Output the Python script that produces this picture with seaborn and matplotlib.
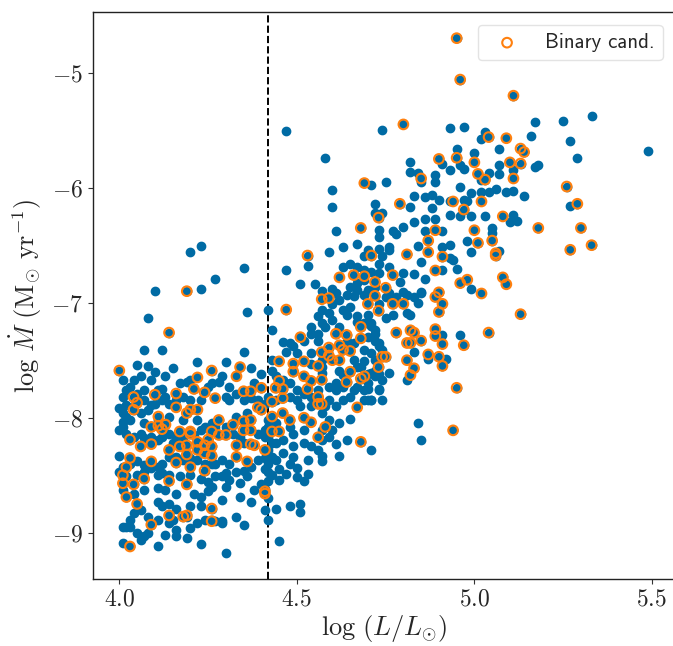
import numpy as np
import pandas as pd
import matplotlib
matplotlib.use("Agg")
import matplotlib.pyplot as plt
import seaborn as sns

# ---- data: log L/Lsun and log Mdot ----
binary_lum = [
    4.69, 4.68, 4.53, 4.19, 4.62, 4.66, 4.69, 4.72, 4.71, 4.57, 4.59, 4.72,
    4.95, 4.96, 5.11, 4.80, 5.04, 5.09, 5.13, 5.14, 4.95, 5.00, 4.90, 4.85,
    5.01, 5.03, 5.10, 5.13, 5.11, 5.26, 5.29, 5.18, 5.30, 5.27, 5.33, 5.08,
    5.05, 5.00, 5.01, 4.97, 4.94, 5.02, 4.89, 4.87, 4.87, 4.91, 4.89, 4.81,
    4.79, 4.77, 4.75, 4.89, 4.90, 4.96, 4.98, 5.02, 5.08, 5.09, 5.06, 5.06,
    4.73,
    5.13, 5.04, 4.97, 4.90, 4.91, 4.80, 4.77, 4.73, 4.78, 4.82, 4.83, 4.89,
    4.89, 4.91, 4.85, 4.81, 4.82, 4.87, 4.90, 4.91, 4.81, 4.83, 4.82, 4.74,
    4.75, 4.73, 4.95, 4.94,
    4.14, 4.47, 4.70, 4.68, 4.61, 4.64, 4.68, 4.51, 4.57, 4.59, 4.62, 4.63,
    4.65, 4.59, 4.60, 4.62, 4.56, 4.52, 4.49, 4.45, 4.49, 4.52, 4.54, 4.57,
    4.53, 4.65, 4.64, 4.68, 4.69, 4.56, 4.57, 4.56, 4.67, 4.68, 4.56, 4.58,
    4.52, 4.54, 4.48, 4.46, 4.43, 4.43, 4.45, 4.43, 4.46, 4.46, 4.45, 4.44,
    4.40, 4.39, 4.40, 4.37, 4.35, 4.34, 4.33, 4.26, 4.22, 4.21, 4.24, 4.27,
    4.16, 4.16, 4.19, 4.20, 4.22, 4.10, 4.04, 4.05, 4.04, 4.00, 4.03, 4.03,
    4.02, 4.01, 4.01, 4.04, 4.02, 4.05, 4.09, 4.03, 4.26, 4.41, 4.41, 4.26,
    4.36, 4.38, 4.41, 4.37, 4.33, 4.33, 4.35, 4.37, 4.37, 4.35, 4.32, 4.30,
    4.28, 4.26, 4.28, 4.25, 4.24, 4.26, 4.22, 4.20, 4.17, 4.19, 4.17, 4.22,
    4.24, 4.26, 4.19, 4.14, 4.16, 4.20, 4.24, 4.14, 4.19, 4.14, 4.18, 4.19,
    4.07, 4.09, 4.09, 4.06, 4.09, 4.11, 4.13, 4.12, 4.11, 4.20,
]
binary_mdot = [
    -5.96, -6.35, -6.59, -6.90, -6.78, -6.76, -6.77, -6.82, -6.59, -6.97, -6.96, -6.94,
    -4.70, -5.06, -5.20, -5.45, -5.56, -5.57, -5.66, -5.69, -5.74, -5.78, -5.75, -5.92,
    -5.88, -5.93, -5.78, -5.79, -5.92, -5.99, -6.14, -6.35, -6.35, -6.54, -6.50, -6.25,
    -6.46, -6.37, -6.48, -6.19, -6.12, -6.12, -6.37, -6.46, -6.56, -6.60, -6.72, -6.58,
    -6.14, -6.76, -6.87, -6.95, -6.91, -6.83, -6.80, -6.92, -6.78, -6.84, -6.59, -6.57,
    -6.26,
    -7.10, -7.26, -7.37, -7.08, -7.01, -7.01, -7.01, -7.07, -7.26, -7.24, -7.26, -7.23,
    -7.29, -7.36, -7.33, -7.35, -7.35, -7.45, -7.47, -7.55, -7.50, -7.57, -7.63, -7.47,
    -7.47, -7.56, -7.74, -8.11,
    -7.26, -7.06, -7.01, -7.21, -7.27, -7.28, -7.31, -7.30, -7.43, -7.39, -7.37, -7.41,
    -7.42, -7.46, -7.50, -7.50, -7.55, -7.51, -7.53, -7.51, -7.60, -7.64, -7.68, -7.67,
    -7.75, -7.60, -7.69, -7.66, -7.64, -7.82, -7.88, -7.88, -7.91, -8.21, -8.17, -8.08,
    -8.00, -8.04, -8.02, -7.96, -7.99, -8.12, -8.12, -7.86, -7.83, -7.75, -7.68, -7.74,
    -7.74, -7.91, -7.93, -7.77, -7.77, -7.56, -7.64, -7.59, -7.65, -7.75, -7.78, -7.83,
    -7.79, -7.91, -7.96, -7.93, -7.93, -7.80, -7.82, -7.87, -7.93, -7.59, -8.19, -8.35,
    -8.43, -8.50, -8.57, -8.58, -8.69, -8.75, -8.93, -9.12, -8.90, -8.64, -8.66, -8.79,
    -8.38, -8.24, -8.28, -8.23, -8.34, -8.24, -8.11, -8.11, -8.02, -8.03, -8.06, -8.15,
    -8.15, -8.12, -8.02, -8.19, -8.24, -8.25, -8.21, -8.12, -8.12, -8.24, -8.25, -8.28,
    -8.31, -8.33, -8.32, -8.28, -8.39, -8.43, -8.46, -8.55, -8.58, -8.85, -8.86, -8.85,
    -8.53, -8.38, -8.23, -8.25, -8.08, -8.07, -8.06, -8.10, -7.99, -8.14,
]

single_lum = [
    4.47, 4.58, 4.71, 4.74, 4.60, 4.60, 4.72, 4.72, 4.61, 4.73, 4.73, 4.67,
    4.63, 4.59, 4.70, 4.69, 4.73, 4.53, 4.47, 4.35, 4.27, 4.23, 4.20, 4.23,
    4.10, 4.51, 4.55, 4.69, 4.71, 4.67, 4.65, 4.60, 4.64, 4.66, 4.69, 4.73,
    4.63, 4.65, 4.67, 4.69, 4.72, 4.73, 4.70, 4.67, 4.61,
    5.49, 4.93, 4.97, 5.17, 5.25, 5.33, 5.27, 5.29, 5.03, 5.02, 5.16, 5.07,
    4.95, 5.00, 4.91, 4.82, 4.82, 4.84, 4.85, 4.89, 4.89, 4.93, 4.96, 4.97,
    5.02, 5.04, 5.07, 5.07, 5.17, 5.18, 5.11, 4.75, 4.96, 4.99, 5.04, 5.02,
    5.06, 5.09, 5.11, 5.14, 5.27, 5.10, 5.12, 5.11, 5.05, 5.05, 4.98, 4.99,
    4.99, 4.96, 4.93, 5.03, 4.98, 4.97, 4.93, 4.91, 4.84, 4.93, 4.82, 4.83,
    4.86, 4.88, 4.90, 4.88, 4.86, 4.89, 4.83, 4.80, 4.77, 4.74, 4.74, 4.76,
    4.80, 4.83, 4.85, 4.86, 4.79, 4.80, 4.85, 4.95, 4.99, 5.07, 4.93, 4.91,
    4.86, 4.76, 4.78, 4.76, 4.83, 4.76, 4.94, 4.91,
    4.96, 4.84, 4.85, 4.81, 4.82, 4.77, 4.75, 4.91, 4.83, 4.87, 4.92, 4.81,
    4.76, 4.74, 4.72, 4.73, 4.71, 4.70, 4.71, 4.72, 4.70, 4.84, 4.85, 4.71,
    4.70, 4.73, 4.74, 4.72, 4.71, 4.70, 4.75, 4.76, 4.78, 4.81, 4.73,
    4.08, 4.36, 4.42, 4.43, 4.57, 4.60, 4.63, 4.64, 4.70, 4.57, 4.58, 4.67,
    4.71, 4.72, 4.56, 4.56, 4.54, 4.46, 4.47, 4.49, 4.54, 4.69, 4.67, 4.66,
    4.74, 4.70, 4.74, 4.69, 4.62, 4.63, 4.61, 4.57, 4.56, 4.59, 4.58, 4.59,
    4.61, 4.63, 4.65, 4.66, 4.65, 4.64, 4.61, 4.62, 4.57, 4.57, 4.07, 4.12,
    4.08, 4.10, 4.05, 4.06, 4.04, 4.07, 4.15, 4.12, 4.13, 4.10, 4.09, 4.01,
    4.02, 4.00, 4.01, 4.02, 4.01, 4.01, 4.00, 4.01, 4.01, 4.03, 4.06, 4.07,
    4.11, 4.13, 4.16, 4.19, 4.23, 4.30, 4.45, 4.42, 4.44, 4.48, 4.51, 4.51,
    4.53, 4.50, 4.45, 4.42, 4.42, 4.38, 4.37, 4.35, 4.29, 4.27, 4.33, 4.34,
    4.29, 4.30, 4.34, 4.33, 4.36, 4.30, 4.35, 4.37, 4.22, 4.19,
    4.05, 4.07, 4.04, 4.02, 4.06, 4.08, 4.11, 4.12, 4.14, 4.16, 4.18, 4.20,
    4.23, 4.25, 4.26, 4.28, 4.30, 4.31, 4.33, 4.35, 4.37, 4.39, 4.41, 4.42,
    4.44,
    4.00, 4.02, 4.04, 4.06, 4.07, 4.09, 4.11, 4.12, 4.14, 4.16, 4.15, 4.18,
    4.21, 4.23, 4.24, 4.26, 4.27, 4.30, 4.32, 4.34, 4.35, 4.39, 4.41, 4.42,
    4.44, 4.42, 4.43, 4.41, 4.39, 4.37, 4.35, 4.31, 4.29, 4.27, 4.26, 4.24,
    4.22, 4.20, 4.18, 4.16, 4.14, 4.12, 4.11, 4.09, 4.07, 4.05, 4.03, 4.01,
    4.00, 4.02, 4.05, 4.07, 4.11, 4.12, 4.14, 4.17, 4.20, 4.23, 4.25, 4.27,
    4.30, 4.31, 4.29,
    4.01, 4.04, 4.07, 4.11, 4.13, 4.16, 4.21, 4.23, 4.25, 4.26, 4.11, 4.12,
    4.14, 4.16, 4.20, 4.23, 4.04, 4.06, 4.08, 4.11, 4.14, 4.16, 4.20, 4.22,
    4.24, 4.26, 4.29, 4.03, 4.02,
    4.43, 4.43, 4.44, 4.46, 4.48, 4.50, 4.52, 4.54, 4.48, 4.50, 4.51, 4.54,
    4.57, 4.59, 4.62, 4.60, 4.57, 4.52, 4.49, 4.48, 4.44, 4.42, 4.42, 4.41,
    4.43, 4.46, 4.49, 4.52, 4.54, 4.57, 4.59, 4.56, 4.53, 4.49, 4.46, 4.44,
    4.48,
    4.59, 4.62, 4.65, 4.67, 4.69, 4.72, 4.73, 4.71, 4.69, 4.66, 4.64, 4.62,
    4.60, 4.59, 4.57, 4.56, 4.54, 4.52, 4.50, 4.48, 4.54, 4.57, 4.57, 4.61,
    4.63, 4.67, 4.69, 4.71, 4.73, 4.73, 4.72, 4.70, 4.68,
    4.41, 4.42, 4.41, 4.42, 4.41, 4.43, 4.40, 4.42, 4.45, 4.47, 4.50, 4.52,
    4.08, 4.05, 4.15, 4.19, 4.01, 4.03, 4.09, 4.13, 4.17, 4.20, 4.29, 4.31,
    4.40, 4.38, 4.03, 4.07, 4.11, 4.14, 4.18, 4.22, 4.33, 4.36,
]
single_mdot = [
    -5.51, -5.74, -5.98, -5.50, -6.02, -6.17, -6.14, -6.22, -6.38, -6.43, -6.37, -6.49,
    -6.52, -6.56, -6.54, -6.59, -6.53, -6.68, -6.72, -6.70, -6.79, -6.51, -6.56, -6.88,
    -6.90, -6.84, -6.84, -6.72, -6.73, -6.83, -6.86, -6.88, -6.93, -6.94, -6.93, -6.66,
    -6.69, -6.66, -6.69, -6.80, -6.86, -6.74, -6.89, -6.89, -6.92,
    -5.68, -5.48, -5.47, -5.43, -5.42, -5.38, -5.59, -5.74, -5.52, -5.58, -5.55, -5.66,
    -5.66, -5.70, -5.79, -5.78, -5.86, -5.87, -5.95, -5.89, -5.95, -5.85, -5.80, -5.84,
    -5.93, -5.87, -5.80, -5.88, -5.82, -5.80, -5.85, -5.95, -5.99, -6.05, -6.04, -6.04,
    -6.01, -6.04, -6.03, -6.07, -6.16, -6.30, -6.29, -6.24, -6.35, -6.39, -6.46, -6.56,
    -6.25, -6.25, -6.24, -6.25, -6.12, -6.11, -6.12, -6.38, -6.51, -6.61, -6.17, -6.07,
    -6.08, -6.06, -6.11, -6.18, -6.27, -6.27, -6.30, -6.34, -6.38, -6.22, -6.59, -6.69,
    -6.74, -6.75, -6.65, -6.79, -6.82, -6.91, -6.91, -6.71, -6.88, -6.55, -6.50, -6.52,
    -6.38, -6.52, -6.40, -6.54, -6.95, -6.95, -6.63, -6.72,
    -7.28, -7.00, -6.92, -7.09, -7.11, -7.11, -7.13, -7.28, -7.43, -7.49, -7.49, -7.67,
    -7.61, -7.46, -7.64, -7.75, -7.85, -7.85, -7.20, -7.24, -7.30, -8.05, -8.19, -8.28,
    -7.18, -7.35, -7.41, -7.50, -7.61, -7.70, -6.95, -6.92, -6.95, -6.93, -7.01,
    -7.13, -7.08, -7.06, -7.24, -6.90, -7.01, -7.06, -7.11, -7.11, -7.18, -7.21, -7.17,
    -7.18, -7.27, -7.27, -7.33, -7.27, -7.34, -7.43, -7.38, -7.44, -7.51, -7.56, -7.50,
    -7.67, -7.75, -7.85, -7.85, -7.59, -7.63, -7.70, -7.61, -7.76, -7.73, -7.90, -7.85,
    -7.90, -7.85, -7.82, -7.76, -8.01, -8.19, -8.23, -8.33, -8.33, -8.38, -7.41, -7.41,
    -7.55, -7.60, -7.54, -7.64, -7.67, -7.76, -7.57, -7.75, -7.82, -7.88, -7.89, -7.82,
    -7.76, -7.92, -7.96, -7.89, -8.04, -8.08, -8.33, -9.09, -8.95, -8.95, -9.06, -9.03,
    -9.12, -9.02, -9.03, -9.05, -9.10, -9.18, -9.07, -8.89, -8.79, -8.77, -8.75, -8.82,
    -8.49, -8.44, -8.54, -8.47, -8.40, -8.63, -8.73, -8.93, -8.92, -8.90, -8.86, -8.69,
    -8.72, -8.60, -8.57, -8.47, -8.51, -7.52, -7.43, -7.57, -7.52, -7.69,
    -7.79, -7.85, -7.90, -7.99, -7.96, -7.93, -7.76, -7.85, -7.88, -7.85, -7.82, -7.85,
    -7.85, -7.73, -7.70, -7.69, -7.82, -7.85, -7.79, -7.85, -7.83, -7.85, -7.88, -7.82,
    -7.85,
    -8.11, -8.14, -8.17, -8.14, -8.18, -8.17, -8.19, -8.17, -8.14, -8.17, -8.22, -8.18,
    -8.15, -8.11, -8.08, -8.05, -8.08, -8.08, -8.14, -8.17, -8.22, -8.14, -8.11, -8.17,
    -8.22, -8.28, -8.34, -8.35, -8.37, -8.43, -8.46, -8.40, -8.37, -8.40, -8.40, -8.40,
    -8.37, -8.35, -8.37, -8.34, -8.34, -8.40, -8.43, -8.44, -8.41, -8.38, -8.40, -8.43,
    -8.47, -8.51, -8.50, -8.47, -8.50, -8.48, -8.50, -8.51, -8.50, -8.53, -8.56, -8.51,
    -8.48, -8.54, -8.51,
    -8.63, -8.66, -8.63, -8.61, -8.63, -8.66, -8.66, -8.69, -8.64, -8.60, -8.73, -8.77,
    -8.75, -8.79, -8.77, -8.77, -8.83, -8.80, -8.86, -8.89, -8.92, -8.98, -8.96, -8.92,
    -8.89, -8.89, -8.90, -8.89, -8.95,
    -7.50, -7.59, -7.64, -7.67, -7.70, -7.76, -7.79, -7.82, -7.82, -7.85, -7.90, -7.90,
    -7.96, -8.02, -8.05, -8.11, -8.11, -8.11, -8.14, -8.08, -8.05, -8.02, -8.08, -8.17,
    -8.22, -8.19, -8.25, -8.22, -8.25, -8.19, -8.17, -8.28, -8.37, -8.34, -8.31, -8.37,
    -8.40,
    -6.95, -6.98, -7.04, -7.12, -7.18, -7.33, -7.38, -7.44, -7.41, -7.35, -7.33, -7.21,
    -7.15, -7.09, -7.06, -7.12, -7.21, -7.33, -7.44, -7.35, -7.53, -7.56, -7.50, -7.76,
    -7.73, -7.73, -7.76, -7.85, -7.76, -7.62, -7.59, -7.62, -7.56,
    -8.45, -8.55, -8.62, -8.70, -8.80, -8.50, -8.58, -8.38, -8.45, -8.49, -8.52, -8.55,
    -9.00, -9.00, -8.89, -8.86, -7.67, -7.73, -7.67, -7.64, -7.70, -7.67, -7.64, -7.73,
    -7.62, -7.70, -8.02, -8.05, -8.02, -7.99, -8.02, -8.02, -7.99, -7.96,
]

blue = "#006BA4"
orange = "#FF800E"

sns.set_theme(style="ticks")
plt.rcParams["font.family"] = ["cmr10", "DejaVu Sans"]
plt.rcParams["mathtext.fontset"] = "cm"
plt.rcParams["axes.formatter.use_mathtext"] = True
plt.rcParams["axes.unicode_minus"] = True

all_df = pd.DataFrame({
    "lum": single_lum + binary_lum,
    "mdot": single_mdot + binary_mdot,
})
bin_df = pd.DataFrame({"lum": binary_lum, "mdot": binary_mdot})

fig = plt.figure(figsize=(6.73, 6.46), dpi=100)
ax = fig.add_axes([92.7 / 673, 1 - 578.7 / 646, (675 - 92.7) / 673, (578.7 - 12.3) / 646])

sns.scatterplot(data=all_df, x="lum", y="mdot", ax=ax, color=blue, s=36,
                edgecolor=blue, linewidth=1.0, legend=False, zorder=2)
sns.scatterplot(data=bin_df, x="lum", y="mdot", ax=ax, s=48, marker="o",
                facecolors="none", edgecolor=orange, linewidth=1.5,
                label="Binary cand.", zorder=3)

ax.axvline(4.42, color="black", linestyle="--", linewidth=1.4, zorder=1)

ax.set_xlim(3.925, 5.565)
ax.set_ylim(-9.40, -4.475)
ax.set_xticks([4.0, 4.5, 5.0, 5.5])
ax.set_yticks([-9, -8, -7, -6, -5])
ax.tick_params(axis="both", labelsize=17, length=3.5, width=0.8, color="#333333")
for sp in ax.spines.values():
    sp.set_color("#222222")
    sp.set_linewidth(1.0)

ax.set_xlabel(r"$\log\,(L/L_{\odot})$", fontsize=19, labelpad=2)
ax.set_ylabel(r"$\log\,\dot{M}\ (\mathrm{M}_{\odot}\ \mathrm{yr}^{-1})$", fontsize=19, labelpad=5)

leg = ax.legend(loc="upper right", prop={"family": "cmss10", "size": 15},
                frameon=True, borderaxespad=0.6)
leg.get_frame().set_edgecolor("#dddddd")

fig.savefig("out.png", dpi=100)
